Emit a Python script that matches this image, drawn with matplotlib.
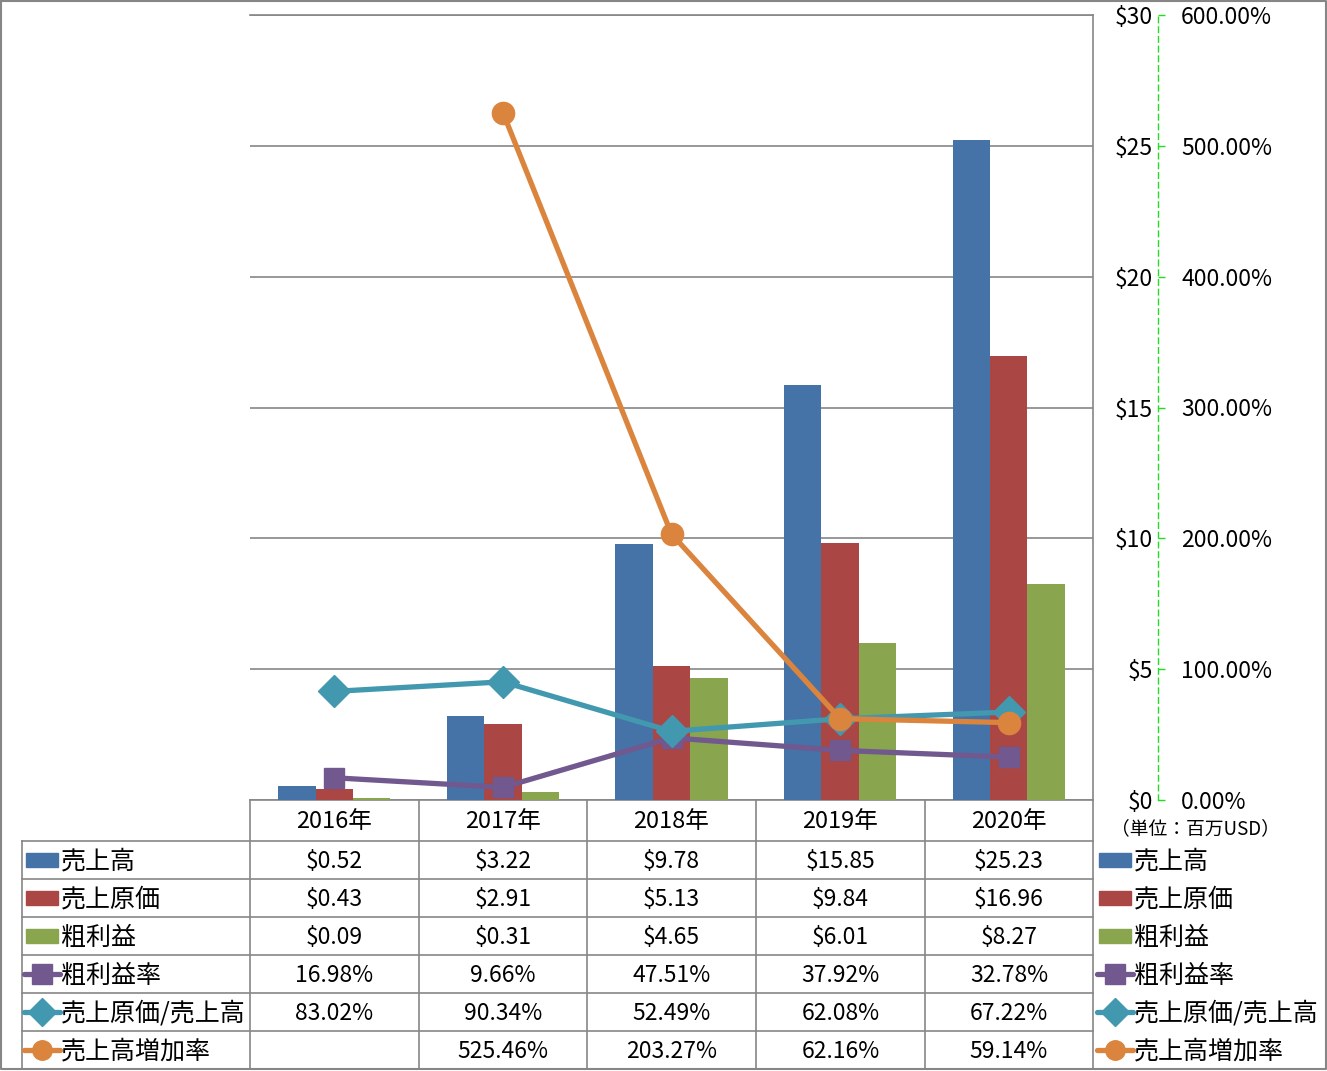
import matplotlib
matplotlib.use("Agg")
import matplotlib.pyplot as plt
import numpy as np

plt.rcParams['font.family'] = ['Noto Sans CJK JP', 'DejaVu Sans']

# データ（単位：百万USD / %）
years = ['2016年', '2017年', '2018年', '2019年', '2020年']
sales = [0.52, 3.22, 9.78, 15.85, 25.23]
cogs = [0.43, 2.91, 5.13, 9.84, 16.96]
gross = [0.09, 0.31, 4.65, 6.01, 8.27]
gm_rate = [16.98, 9.66, 47.51, 37.92, 32.78]
cogs_ratio = [83.02, 90.34, 52.49, 62.08, 67.22]
growth = [np.nan, 525.46, 203.27, 62.16, 59.14]

bar_names = ['売上高', '売上原価', '粗利益']
line_names = ['粗利益率', '売上原価/売上高', '売上高増加率']
bar_colors = ['#4572A7', '#AA4643', '#89A54E']
line_colors = ['#71588F', '#4198AF', '#DB843D']
line_markers = ['s', 'D', 'o']
marker_sizes = [15, 16, 16]

W, H = 1327, 1071
fig = plt.figure(figsize=(W / 100, H / 100), dpi=100)


def px(x0, y0, x1, y1):
    return [x0 / W, 1 - y1 / H, (x1 - x0) / W, (y1 - y0) / H]


grey = '#868686'
fs_num = 16.5
fs_cjk = 18

# 表と枠用のオーバーレイ
bg = fig.add_axes([0, 0, 1, 1], zorder=0)
bg.set_xlim(0, W)
bg.set_ylim(H, 0)
bg.axis('off')

# メインのグラフ
ax = fig.add_axes(px(250, 15, 1093, 800), zorder=2)
ax.patch.set_alpha(0)
idx = np.arange(len(years))
bw = 0.222
for k, (vals, c) in enumerate(zip([sales, cogs, gross], bar_colors)):
    ax.bar(idx + (k - 1) * bw, vals, bw, color=c, zorder=3)
ax.set_xlim(-0.5, len(years) - 0.5)
ax.set_ylim(0, 30)
ax.set_yticks(np.arange(0, 31, 5))
ax.yaxis.grid(True, color=grey, linewidth=1.2, zorder=0)
ax.spines['left'].set_visible(False)
for s in ['top', 'right', 'bottom']:
    ax.spines[s].set_color(grey)
    ax.spines[s].set_linewidth(1.2)

ax2 = ax.twinx()
ax2.set_ylim(0, 600)
for vals, c, m, ms in zip([gm_rate, cogs_ratio, growth], line_colors, line_markers, marker_sizes):
    ax2.plot(idx, vals, color=c, marker=m, markersize=ms, linewidth=3.8,
             markeredgecolor=c, solid_joinstyle='round', solid_capstyle='round')
ax2.tick_params(right=False, labelright=False)
ax.tick_params(left=False, labelleft=False, bottom=False, labelbottom=False)
for s in ax2.spines.values():
    s.set_visible(False)

# 軸ラベル（右側）
axd = fig.add_axes(px(1158, 15, 1159, 800), zorder=1)
axd.patch.set_alpha(0)
axd.set_ylim(0, 30)
axd.set_yticks(np.arange(0, 31, 5))
axd.set_yticklabels([f'${v}' for v in range(0, 31, 5)], fontsize=fs_num)
axd.tick_params(axis='y', direction='in', length=5, color='#22DD22', pad=3.5, width=1)
axd.set_xticks([])
for s in ['top', 'right', 'bottom']:
    axd.spines[s].set_visible(False)
axd.spines['left'].set_color('#22DD22')
axd.spines['left'].set_linestyle((0, (4, 3)))
axd.spines['left'].set_linewidth(1)

axp = axd.twinx()
axp.set_ylim(0, 600)
axp.set_yticks(np.arange(0, 601, 100))
axp.set_yticklabels([f'{v:.2f}%' for v in range(0, 601, 100)], fontsize=fs_num)
axp.tick_params(axis='y', length=0, pad=16)
for s in axp.spines.values():
    s.set_visible(False)

bg.text(1111, 829, '（単位：百万USD）', fontsize=13.5, va='center', ha='left')

# 図の外枠
bg.plot([1, W - 1, W - 1, 1, 1], [1, 1, H - 2, H - 2, 1], color=grey, linewidth=1.5)

# データテーブル
col_x = [250, 419, 587, 756, 925, 1093]
row_y = [800, 841, 879, 917, 955, 993, 1031, 1069]
for x in col_x:
    bg.plot([x, x], [800, 1069], color=grey, linewidth=1.2)
bg.plot([22, 22], [841, 1069], color=grey, linewidth=1.2)
for y in row_y[1:-1]:
    bg.plot([22, 1093], [y, y], color=grey, linewidth=1.2)

dy = 1.5
for j, yr in enumerate(years):
    cx = (col_x[j] + col_x[j + 1]) / 2
    bg.text(cx, (row_y[0] + row_y[1]) / 2 + dy, yr, fontsize=17, ha='center', va='center')

table_rows = [
    [f'${v:.2f}' for v in sales],
    [f'${v:.2f}' for v in cogs],
    [f'${v:.2f}' for v in gross],
    [f'{v:.2f}%' for v in gm_rate],
    [f'{v:.2f}%' for v in cogs_ratio],
    ['' if np.isnan(v) else f'{v:.2f}%' for v in growth],
]
for i, row in enumerate(table_rows):
    cy = (row_y[i + 1] + row_y[i + 2]) / 2
    for j, txt in enumerate(row):
        cx = (col_x[j] + col_x[j + 1]) / 2
        bg.text(cx, cy + dy, txt, fontsize=fs_num, ha='center', va='center')


# 凡例キー（表の左と右）
def draw_key(x0, cy, i):
    if i < 3:
        bg.add_patch(plt.Rectangle((x0 + 2, cy - 7), 32, 14, color=bar_colors[i]))
    else:
        k = i - 3
        bg.plot([x0, x0 + 36], [cy, cy], color=line_colors[k], linewidth=3.8,
                solid_capstyle='round')
        bg.plot([x0 + 18], [cy], marker=line_markers[k], color=line_colors[k],
                markersize=14)


names = bar_names + line_names
for i, nm in enumerate(names):
    cy = (row_y[i + 1] + row_y[i + 2]) / 2
    draw_key(24, cy, i)
    bg.text(61, cy + dy, nm, fontsize=fs_cjk, ha='left', va='center')
    draw_key(1097, cy, i)
    bg.text(1134, cy + dy, nm, fontsize=fs_cjk, ha='left', va='center')

fig.savefig('out.png', dpi=100)
